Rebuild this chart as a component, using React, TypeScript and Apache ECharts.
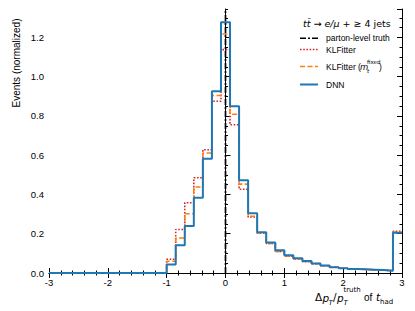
import React, { useEffect, useRef } from "react";
import * as echarts from "echarts";

// Histogram: 26 bins spanning [-1, 3]
const binLow = -1;
const binHigh = 3;
const nBins = 26;

const dnn = [0.043, 0.141, 0.239, 0.384, 0.582, 0.926, 1.277, 0.85, 0.473, 0.305, 0.207, 0.156, 0.116, 0.09, 0.075, 0.061, 0.049, 0.038, 0.029, 0.024, 0.02, 0.019, 0.017, 0.015, 0.012, 0.205];
const klfitter = [0.07, 0.222, 0.358, 0.485, 0.628, 0.875, 1.138, 0.755, 0.427, 0.285, 0.203, 0.15, 0.11, 0.086, 0.071, 0.058, 0.047, 0.037, 0.029, 0.024, 0.02, 0.018, 0.016, 0.014, 0.012, 0.212];
const klfitterFixed = [0.06, 0.178, 0.302, 0.438, 0.611, 0.904, 1.218, 0.809, 0.453, 0.289, 0.204, 0.15, 0.11, 0.086, 0.072, 0.059, 0.048, 0.037, 0.029, 0.024, 0.02, 0.018, 0.016, 0.014, 0.012, 0.207];
const truthX = [0];

const xMin = -3;
const xMax = 3;
const yMin = 0;
const yMax = 1.345;

const SANS = "'Liberation Sans', Arial, sans-serif";
const MATH = "'DejaVu Sans', sans-serif";

function stepData(vals: number[]) {
  const w = (binHigh - binLow) / nBins;
  const pts: number[][] = [[xMin, 0]];
  vals.forEach((v, i) => pts.push([binLow + i * w, v]));
  pts.push([xMax, vals[vals.length - 1]]);
  return pts;
}

function txt(text: string, x: number, y: number, size: number, family: string, italic = false, align = "left") {
  return {
    type: "text",
    x,
    y,
    z: 100,
    style: {
      text,
      fill: "#000",
      font: `${italic ? "italic " : ""}${size}px ${family}`,
      textAlign: align,
      textVerticalAlign: "middle",
      align,
      verticalAlign: "middle",
    },
  };
}

function legLine(y: number, color: string, dash: number[] | null, width: number) {
  return {
    type: "line",
    z: 100,
    shape: { x1: 300, y1: y, x2: 318, y2: y },
    style: { stroke: color, lineWidth: width, lineDash: dash || undefined },
  };
}

export default function App() {
  const ref = useRef<HTMLDivElement>(null);
  useEffect(() => {
    if (!ref.current) return;
    const chart = echarts.init(ref.current, undefined, { renderer: "svg" });
    const axisLine = { show: true, lineStyle: { color: "#000", width: 1 } };
    const tickStyle = { color: "#000", width: 1 };
    const xAxisCommon = {
      type: "value",
      min: xMin,
      max: xMax,
      interval: 1,
      axisLine,
      axisTick: { show: true, inside: true, length: 5, lineStyle: tickStyle },
      minorTick: { show: true, splitNumber: 5, length: 2.5, lineStyle: tickStyle },
      splitLine: { show: false },
      minorSplitLine: { show: false },
    };
    const yMajor = {
      type: "value",
      min: yMin,
      max: yMax,
      interval: 0.2,
      axisLine,
      axisTick: { show: true, inside: true, length: 5, lineStyle: tickStyle },
      splitLine: { show: false },
    };
    const yMinor = {
      type: "value",
      min: yMin,
      max: yMax,
      interval: 0.05,
      axisLine: { show: false },
      axisTick: { show: true, inside: true, length: 2.5, lineStyle: tickStyle },
      axisLabel: { show: false },
      splitLine: { show: false },
    };
    chart.setOption({
      animation: false,
      grid: { left: 49, right: 13, top: 9, bottom: 38, containLabel: false },
      xAxis: [
        {
          ...xAxisCommon,
          position: "bottom",
          axisLabel: { show: true, color: "#000", fontSize: 9.5, fontFamily: SANS, margin: 4 },
        },
        { ...xAxisCommon, position: "top", axisLabel: { show: false } },
      ],
      yAxis: [
        {
          ...yMajor,
          position: "left",
          axisLabel: {
            show: true,
            color: "#000",
            fontSize: 9.5,
            fontFamily: SANS,
            margin: 5,
            showMaxLabel: false,
            formatter: (v: number) => v.toFixed(1),
          },
        },
        { ...yMinor, position: "left" },
        { ...yMajor, position: "right", axisLabel: { show: false } },
        { ...yMinor, position: "right" },
      ],
      series: [
        {
          name: "KLFitter",
          type: "line",
          step: "end",
          showSymbol: false,
          symbol: "none",
          data: stepData(klfitter),
          lineStyle: { color: "#d62728", width: 1.6, type: [1.6, 1.6] },
          z: 2,
        },
        {
          name: "KLFitter (m_t^fixed)",
          type: "line",
          step: "end",
          showSymbol: false,
          symbol: "none",
          data: stepData(klfitterFixed),
          lineStyle: { color: "#ff7f0e", width: 1.6, type: [5, 2.5] },
          z: 3,
        },
        {
          name: "DNN",
          type: "line",
          step: "end",
          showSymbol: false,
          symbol: "none",
          data: stepData(dnn),
          lineStyle: { color: "#1f77b4", width: 2 },
          z: 4,
        },
        {
          name: "parton-level truth",
          type: "line",
          showSymbol: false,
          symbol: "none",
          data: [
            [truthX[0], yMin],
            [truthX[0], yMax],
          ],
          lineStyle: { color: "#000", width: 1.7, type: [6, 2, 2, 2] },
          z: 5,
        },
      ],
      graphic: [
        // y-axis title
        {
          type: "text",
          x: 16,
          y: 63,
          rotation: Math.PI / 2,
          z: 100,
          style: {
            text: "Events (normalized)",
            fill: "#000",
            font: `10px ${SANS}`,
            textAlign: "center",
            textVerticalAlign: "middle",
            align: "center",
            verticalAlign: "middle",
          },
        },
        // x-axis title: Δp_T / p_T^truth of t_had
        txt("Δ", 315, 297, 10.5, MATH),
        txt("p", 322.5, 298, 10.5, MATH, true),
        txt("T", 328.5, 302.5, 7, MATH, true),
        txt("/", 333, 297, 10.5, MATH),
        txt("p", 337, 298, 10.5, MATH, true),
        txt("T", 343.5, 302.5, 7, MATH, true),
        txt("truth", 343.5, 290, 7, MATH),
        txt("of", 364, 297, 10, SANS),
        txt("t", 376, 297, 10.5, MATH, true),
        txt("had", 380, 302, 7, MATH),
        // legend title
        {
          type: "text",
          x: 303,
          y: 23,
          z: 100,
          style: {
            text: "{a|tt\u0304 \u2192 e/\u03bc} {b|+ \u2265 4 jets}",
            fill: "#000",
            font: `9.5px ${MATH}`,
            textVerticalAlign: "middle",
            verticalAlign: "middle",
            rich: {
              a: { fontFamily: MATH, fontStyle: "italic", fontSize: 9.5, fill: "#000", color: "#000" },
              b: { fontFamily: MATH, fontSize: 9.5, fill: "#000", color: "#000" },
            },
          },
        },
        // legend items
        legLine(38.3, "#000", [6, 2, 2, 2], 1.6),
        txt("parton-level truth", 326, 38.3, 8.5, SANS),
        legLine(49.5, "#d62728", [1.6, 1.6], 1.6),
        txt("KLFitter", 326, 49.5, 8.5, SANS),
        legLine(66.5, "#ff7f0e", [5, 2.5], 1.6),
        txt("KLFitter (", 326, 66.5, 8.5, SANS),
        txt("m", 360, 67, 8.5, MATH, true),
        txt("fixed", 367, 61.5, 5.5, MATH),
        txt("t", 367, 71, 5.5, MATH, true),
        txt(")", 379, 66.5, 8.5, SANS),
        legLine(84.5, "#1f77b4", null, 2),
        txt("DNN", 326, 84.5, 8.5, SANS),
      ],
    });
    return () => chart.dispose();
  }, []);
  return <div ref={ref} style={{ width: 415, height: 311, position: "absolute", left: 0, top: 0 }} />;
}
